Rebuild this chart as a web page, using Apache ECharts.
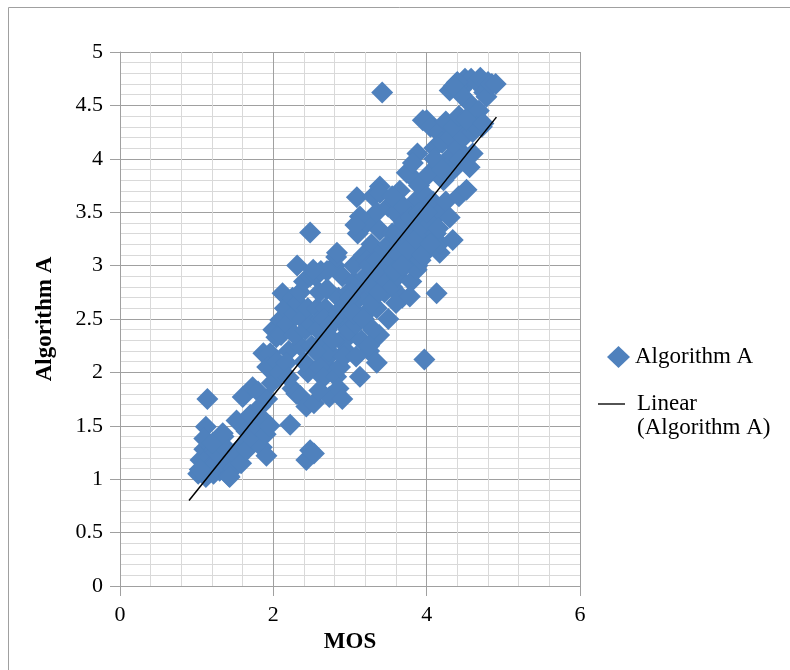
<!DOCTYPE html>
<html><head><meta charset="utf-8">
<script src="https://cdn.jsdelivr.net/npm/echarts@6/dist/echarts.min.js"></script>
<style>html,body{margin:0;padding:0;background:#fff}#c{width:790px;height:670px}</style>
</head><body><div id="c"></div>
<script>
// MOS vs Algorithm A, grouped by MOS range
const pointsMos10to15 = [[1.02,1.05],[1.05,1.18],[1.08,1.1],[1.1,1.28],[1.12,1.02],[1.15,1.2],[1.18,1.12],[1.2,1.3],[1.22,1.05],[1.25,1.15],[1.28,1.35],[1.3,1.08],[1.32,1.22],[1.35,1.4],[1.38,1.12],[1.4,1.28],[1.42,1.03],[1.45,1.18],[1.48,1.1],[1.14,1.75],[1.12,1.49],[1.1,1.38],[1.25,1.25],[1.35,1.3],[1.04,1.09],[1.21,1.34],[1.34,1.43],[1.43,1.02]];
const pointsMos15to20 = [[1.52,1.22],[1.52,1.55],[1.58,1.15],[1.6,1.32],[1.6,1.77],[1.65,1.45],[1.65,1.27],[1.7,1.6],[1.72,1.38],[1.73,1.86],[1.78,1.5],[1.8,1.82],[1.83,1.68],[1.85,1.3],[1.88,1.55],[1.9,1.42],[1.92,1.75],[1.91,1.22],[1.95,1.5],[1.98,1.9],[1.87,2.18],[1.96,2.18],[2.0,2.4],[2.04,2.33],[1.92,2.05]];
const pointsMos20to25 = [[2.05,2.1],[2.09,2.49],[2.1,2.35],[2.12,2.74],[2.15,2.6],[2.18,2.45],[2.2,2.2],[2.25,2.7],[2.28,2.55],[2.31,3.0],[2.32,2.65],[2.35,2.75],[2.38,2.5],[2.4,2.85],[2.45,2.6],[2.48,2.9],[2.48,3.31],[2.09,2.0],[2.17,2.09],[2.25,1.85],[2.3,1.8],[2.35,1.78],[2.22,1.51],[2.43,1.18],[2.48,1.27],[2.53,1.24],[2.45,2.0],[2.4,2.1],[2.35,2.25],[2.2,1.95],[2.43,1.68],[2.53,1.71],[2.28,2.35],[2.42,2.4],[2.5,2.25],[2.5,2.45]];
const pointsMos25to30 = [[2.55,2.9],[2.57,2.6],[2.6,2.75],[2.62,2.5],[2.65,2.3],[2.68,2.6],[2.7,2.4],[2.72,2.15],[2.7,2.78],[2.78,2.0],[2.8,3.0],[2.82,3.08],[2.82,2.55],[2.85,2.7],[2.88,2.3],[2.9,2.9],[2.92,2.45],[2.95,2.2],[2.98,2.75],[2.6,2.05],[2.65,1.95],[2.72,2.2],[2.73,1.77],[2.82,1.96],[2.85,1.85],[2.9,1.75],[2.87,2.05],[2.6,1.83],[2.58,2.4],[2.55,2.2],[2.62,2.95],[2.7,2.95],[2.95,2.55],[3.0,2.35],[2.65,2.5],[2.75,2.45],[2.85,2.55],[2.9,2.6],[2.95,2.65],[2.92,2.15],[2.98,2.4],[2.78,2.3],[2.52,2.96],[2.83,3.12]];
const pointsMos30to35 = [[3.02,2.6],[3.05,2.85],[3.05,3.0],[3.08,2.45],[3.1,3.3],[3.12,2.7],[3.13,1.96],[3.09,3.64],[3.15,2.3],[3.18,3.1],[3.2,2.55],[3.22,3.4],[3.22,3.05],[3.25,2.8],[3.25,2.2],[3.28,3.2],[3.3,3.65],[3.35,2.09],[3.32,2.95],[3.35,3.5],[3.35,2.6],[3.38,2.35],[3.4,3.1],[3.39,3.74],[3.42,4.62],[3.45,2.75],[3.39,3.33],[3.48,2.95],[3.5,3.55],[3.5,2.5],[3.13,3.46],[3.07,3.38],[3.08,2.15],[3.0,2.7],[3.05,2.55],[3.1,2.8],[3.15,2.85],[3.2,2.9],[3.25,3.0],[3.3,2.8],[3.35,3.05],[3.4,2.9],[3.45,3.15],[3.5,3.2],[3.18,2.5],[3.28,2.65],[3.38,2.75],[3.48,2.85],[3.3,2.4],[3.25,2.25],[3.39,3.68]];
const pointsMos35to40 = [[3.52,3.0],[3.55,3.3],[3.55,2.8],[3.58,3.6],[3.6,3.15],[3.62,2.9],[3.65,3.45],[3.65,3.7],[3.68,2.7],[3.7,3.2],[3.6,2.65],[3.72,3.0],[3.75,3.5],[3.74,3.87],[3.78,3.3],[3.8,2.85],[3.78,3.85],[3.82,3.1],[3.85,3.6],[3.85,3.4],[3.88,3.0],[3.88,4.05],[3.9,3.2],[3.9,3.75],[3.87,2.96],[3.95,3.5],[3.97,2.12],[3.98,3.3],[4.0,3.65],[3.6,3.5],[3.7,3.55],[3.78,2.71],[3.55,3.65],[3.62,3.25],[3.82,3.96],[3.55,3.05],[3.6,3.3],[3.65,3.1],[3.7,3.4],[3.75,3.15],[3.8,3.45],[3.85,3.25],[3.9,3.5],[3.95,3.35],[3.58,2.95],[3.68,3.0],[3.92,3.05],[3.95,3.1]];
const pointsMos40to45 = [[4.0,4.36],[3.95,4.36],[4.02,3.85],[4.05,3.4],[4.05,4.3],[4.08,3.6],[4.1,4.1],[4.13,2.74],[4.12,3.3],[4.15,3.95],[4.15,4.25],[4.18,3.5],[4.17,3.12],[4.17,3.21],[4.2,4.15],[4.22,3.8],[4.25,4.35],[4.25,3.6],[4.28,4.0],[4.3,3.45],[4.3,4.2],[4.3,4.64],[4.35,3.9],[4.35,4.3],[4.34,3.24],[4.39,4.71],[4.4,4.1],[4.42,3.65],[4.42,4.4],[4.45,4.65],[4.43,3.99],[4.48,4.2],[4.5,4.75],[4.1,4.0],[4.2,3.9],[4.05,3.2],[4.15,3.35],[4.0,3.5]];
const pointsMos45to50 = [[4.52,3.71],[4.56,3.92],[4.55,4.4],[4.58,4.75],[4.6,4.25],[4.56,4.52],[4.65,4.72],[4.68,4.45],[4.7,4.76],[4.72,4.3],[4.75,4.62],[4.78,4.58],[4.8,4.72],[4.85,4.7],[4.9,4.7],[4.6,4.05],[4.4,4.72],[4.65,4.3],[4.45,4.6],[4.35,4.68],[4.52,4.36],[4.74,4.33]];
// Linear trend line end points
const trendMos = [0.9, 4.91];
const trendAlgA = [0.8, 4.39];
const xTicks = [0, 2, 4, 6];
const yTicks = [0, 0.5, 1, 1.5, 2, 2.5, 3, 3.5, 4, 4.5, 5];

const scatterData = [].concat(pointsMos10to15, pointsMos15to20, pointsMos20to25, pointsMos25to30,
  pointsMos30to35, pointsMos35to40, pointsMos40to45, pointsMos45to50);
const trendData = trendMos.map((x, i) => [x, trendAlgA[i]]);

const FF = '"Liberation Serif", "Times New Roman", serif';
const chart = echarts.init(document.getElementById('c'), null, {renderer: 'canvas'});
chart.setOption({
  animation: false,
  backgroundColor: '#fff',
  graphic: [{
    type: 'rect', silent: true, z: -10,
    shape: {x: 8.5, y: 7.5, width: 900, height: 900},
    style: {fill: 'none', stroke: '#a0a0a0', lineWidth: 1}
  }],
  grid: {left: 120, right: 210, top: 52, bottom: 84, containLabel: false},
  xAxis: {
    type: 'value', min: xTicks[0], max: xTicks[xTicks.length - 1], interval: xTicks[1] - xTicks[0],
    name: 'MOS', nameLocation: 'middle', nameGap: 45,
    nameTextStyle: {fontFamily: FF, fontWeight: 'bold', fontSize: 23, color: '#000'},
    axisLine: {show: true, onZero: false, lineStyle: {color: '#a0a0a0', width: 1}},
    axisTick: {show: true, length: 10, lineStyle: {color: '#a0a0a0'}},
    axisLabel: {margin: 18, color: '#000', fontSize: 22, fontFamily: FF},
    splitLine: {show: true, lineStyle: {color: '#a0a0a0', width: 1}},
    minorTick: {show: false, splitNumber: 5},
    minorSplitLine: {show: true, lineStyle: {color: '#d9d9d9', width: 1}}
  },
  yAxis: {
    type: 'value', min: yTicks[0], max: yTicks[yTicks.length - 1], interval: yTicks[1] - yTicks[0],
    name: 'Algorithm A', nameLocation: 'middle', nameGap: 63, nameRotate: 90,
    nameTextStyle: {fontFamily: FF, fontWeight: 'bold', fontSize: 23, color: '#000'},
    axisLine: {show: true, onZero: false, lineStyle: {color: '#a0a0a0', width: 1}},
    axisTick: {show: true, length: 10, lineStyle: {color: '#a0a0a0'}},
    axisLabel: {margin: 17, color: '#000', fontSize: 22, fontFamily: FF},
    splitLine: {show: true, lineStyle: {color: '#a0a0a0', width: 1}},
    minorTick: {show: false, splitNumber: 5},
    minorSplitLine: {show: true, lineStyle: {color: '#d9d9d9', width: 1}}
  },
  legend: [{
    data: ['Algorithm A'], orient: 'vertical', left: 607, top: 345, padding: 0,
    itemWidth: 23, itemHeight: 22, icon: 'diamond', selectedMode: false,
    textStyle: {fontFamily: FF, fontSize: 23, color: '#000', lineHeight: 24}
  }, {
    data: ['Linear (Algorithm A)'], orient: 'vertical', left: 598, top: 368, padding: 0,
    itemWidth: 27, itemHeight: 22, icon: 'path://M0,0H30V1.5H0Z', selectedMode: false,
    formatter: function () { return '{e|}\nLinear\n(Algorithm A)'; },
    textStyle: {fontFamily: FF, fontSize: 23, color: '#000', lineHeight: 24, padding: [0, 0, 0, 7],
      rich: {e: {fontSize: 23, lineHeight: 24}}}
  }],
  series: [{
    name: 'Algorithm A', type: 'scatter', symbol: 'diamond', symbolSize: 22,
    itemStyle: {color: '#4F81BD', opacity: 1},
    data: scatterData
  }, {
    name: 'Linear (Algorithm A)', type: 'line', showSymbol: false, symbol: 'none',
    itemStyle: {color: '#000'},
    lineStyle: {color: '#000', width: 1.5},
    data: trendData, z: 5
  }]
});
</script></body></html>
